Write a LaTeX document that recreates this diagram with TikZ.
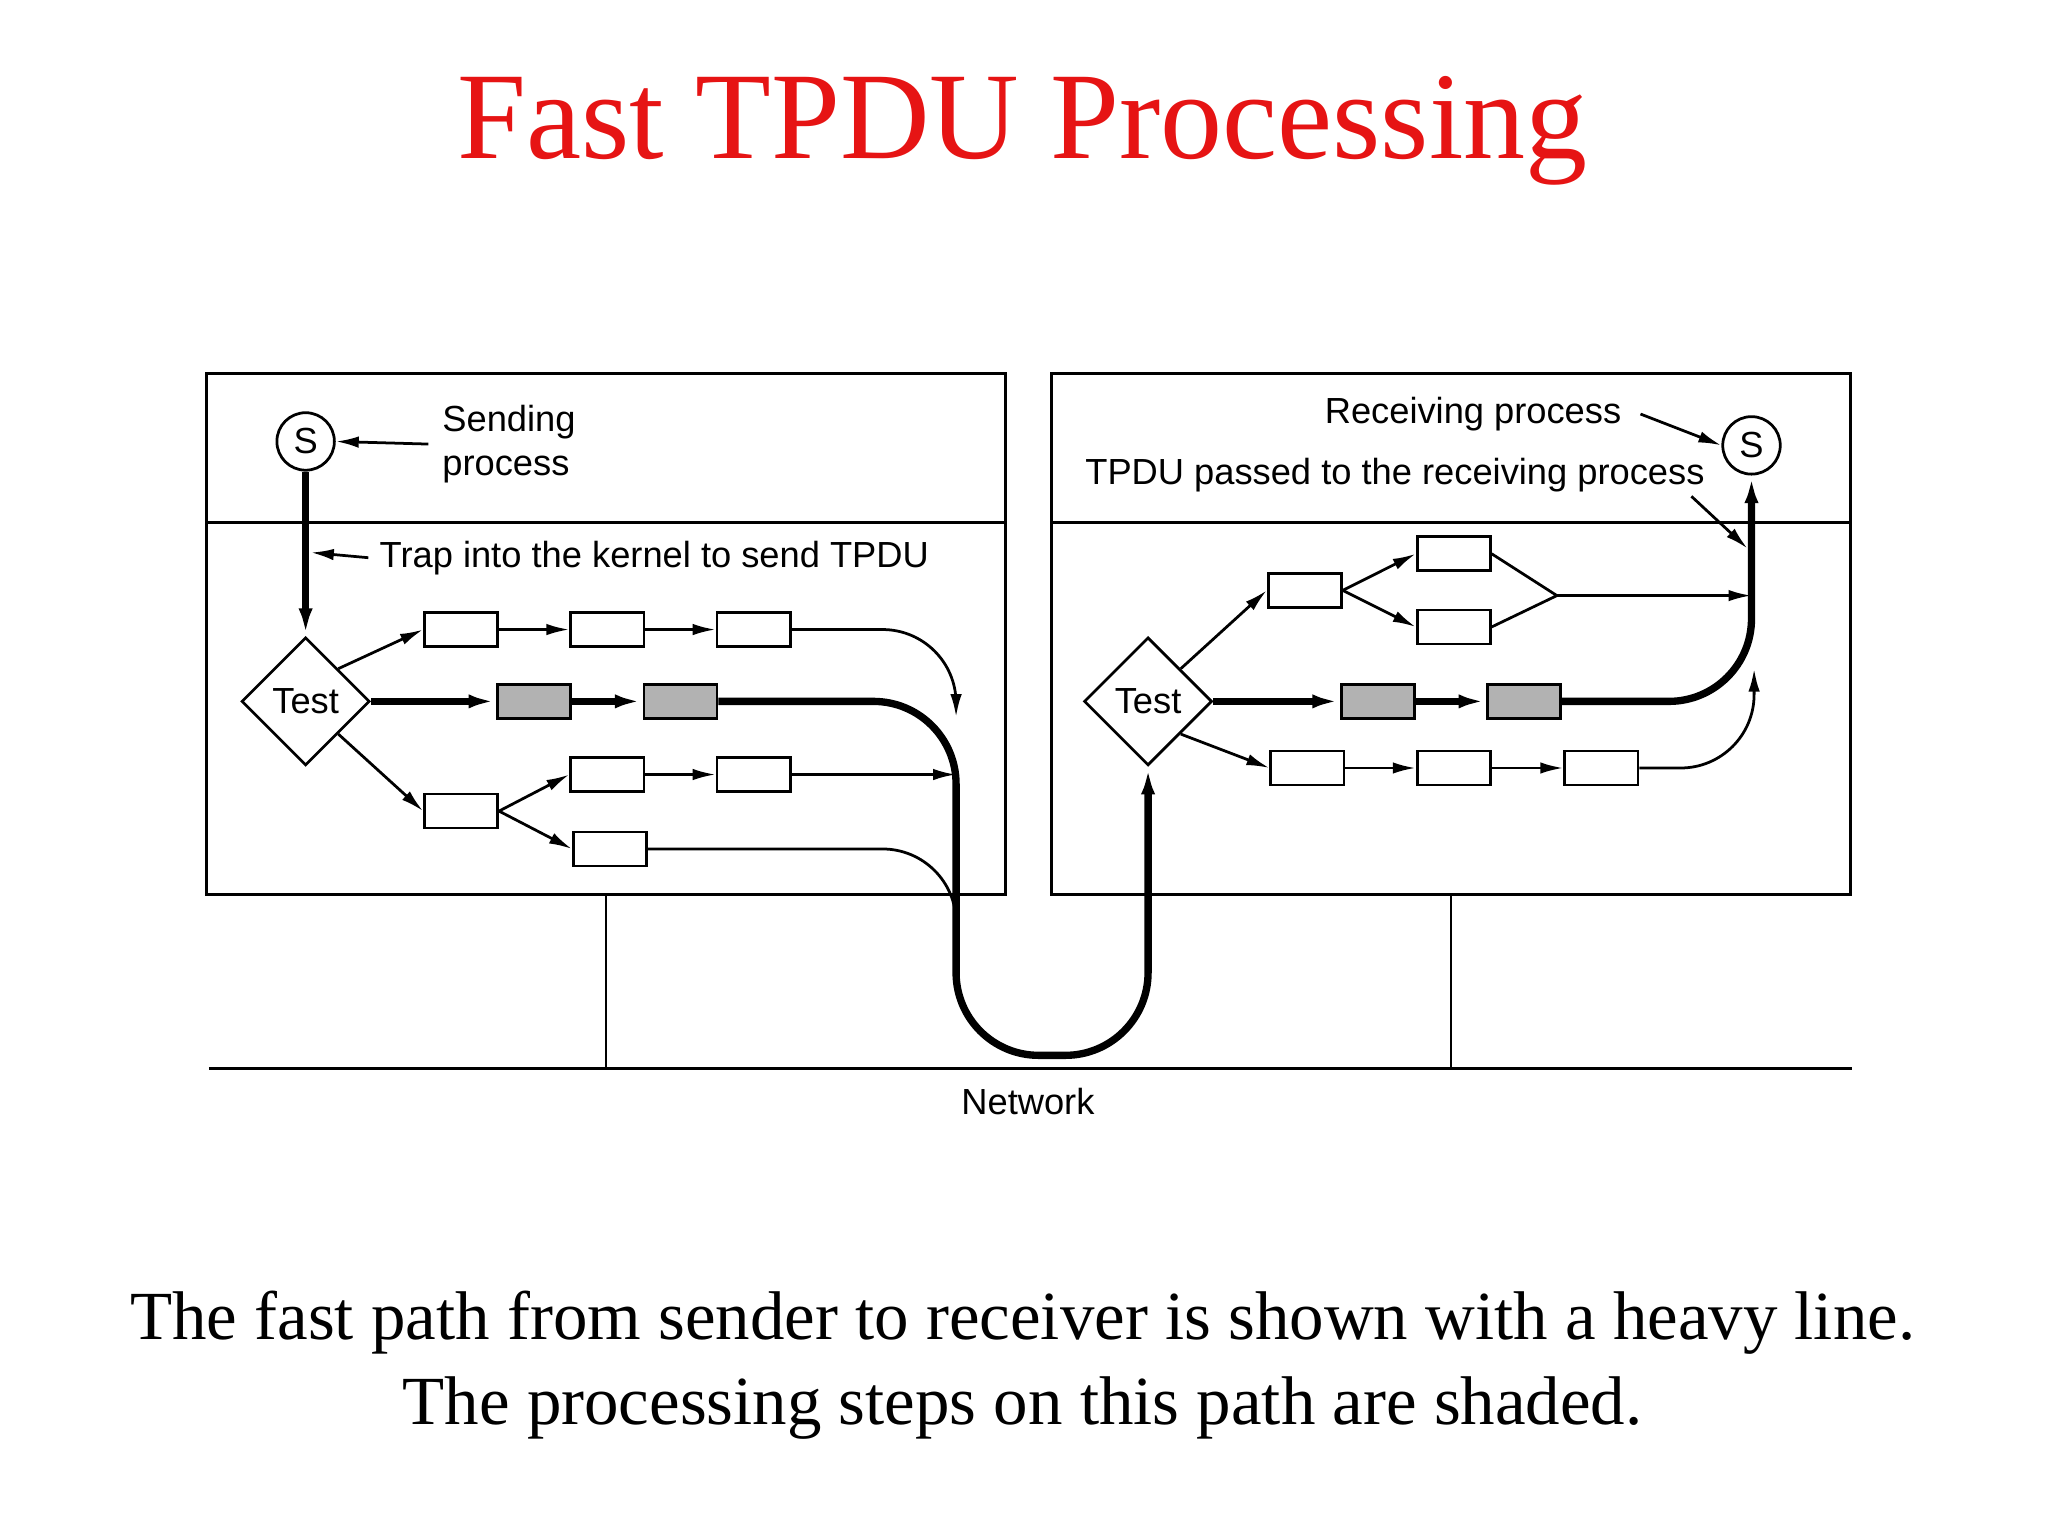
\documentclass[tikz,border=0pt]{standalone}
\usepackage{fontspec}
\setmainfont{Liberation Serif}
\setsansfont{Liberation Sans}
\usetikzlibrary{shapes.geometric,arrows.meta}
\definecolor{titlered}{RGB}{230,20,20}
\begin{document}
\begin{tikzpicture}[x=0.01cm,y=-0.01cm,
  lbl/.style={font=\sffamily\fontsize{7.9}{9.5}\selectfont, inner sep=0},
  stepbox/.style={draw, semithick, minimum width=0.56cm, minimum height=0.26cm, inner sep=0},
  fast/.style={stepbox, fill=gray!60},
  test/.style={draw, diamond, semithick, minimum width=0.98cm, minimum height=0.98cm, inner sep=0, font=\sffamily\fontsize{7.9}{9.5}\selectfont},
  proc/.style={draw, semithick, circle, minimum size=0.44cm, inner sep=0, font=\sffamily\fontsize{7.9}{9.5}\selectfont},
  ar/.style={-{Latex[length=5pt,width=2.5pt]}, semithick},
  heavy/.style={-{Latex[length=6pt,width=3pt]}, line width=1.6pt, rounded corners=18pt},
  ln/.style={semithick}]
\useasboundingbox (0,0) rectangle (1568,1176);
\node[font=\fontsize{27}{31}\selectfont, text=titlered] (title) at (783,100) {Fast TPDU Processing};
\node[align=center, font=\fontsize{15}{18.5}\selectfont] (caption) at (783,1045)
  {The fast path from sender to receiver is shown with a heavy line.\\The processing steps on this path are shaded.};

% hosts and network
\draw[ln] (158,286) rectangle (770,685);
\draw[ln] (158,400) -- (770,400);
\draw[ln] (805,286) rectangle (1417,685);
\draw[ln] (805,400) -- (1417,400);
\draw[ln] (160,818) -- (1418,818);
\draw[ln] (464,685) -- (464,818);
\draw[ln] (1111,685) -- (1111,818);
\node[lbl] (net) at (787,843) {Network};

% sender
\node[proc] (s1) at (234,338) {S};
\node[lbl, align=left, anchor=west] (sendlbl) at (338,340) {Sending\\process};
\draw[ar] (sendlbl.west) ++(-10,0) coordinate (sa) (sa) -- (s1.east);
\node[test] (t1) at (234,537) {Test};
\node[lbl, anchor=west] (trap) at (290,427) {Trap into the kernel to send TPDU};
\coordinate (trapend) at (238,423);
\draw[ar] (trap.west) ++(-8,0) coordinate (ta) (ta) -- (trapend);
\draw[heavy] (s1) -- (t1);
\node[stepbox] (a1) at (353,482) {};
\node[stepbox] (a2) at (465,482) {};
\node[stepbox] (a3) at (577,482) {};
\node[fast] (g1) at (409,537) {};
\node[fast] (g2) at (521,537) {};
\node[stepbox] (c1) at (465,593) {};
\node[stepbox] (c2) at (577,593) {};
\node[stepbox] (d0) at (353,621) {};
\node[stepbox] (d1) at (467,650) {};
\draw[ar] (t1.north east) -- (a1.west);
\draw[ar] (a1) -- (a2);
\draw[ar] (a2) -- (a3);
\draw[ar] (t1.south east) -- (d0.west);
\draw[ar] (d0.east) -- (c1.west);
\draw[ar] (d0.east) -- (d1.west);
\draw[ar] (c1) -- (c2);
\coordinate (m1) at (732,549);
\coordinate (m3) at (732,593);
\draw[ar, rounded corners=16pt] (a3.east) -- (732,482) -- (m1);
\draw[ar] (c2.east) -- (m3);
\draw[ln, rounded corners=16pt] (d1.east) -- (732,650) -- (732,690);
\draw[heavy] (t1.east) -- (g1.west);
\draw[heavy] (g1) -- (g2);

% receiver
\node[proc] (s2) at (1341,341) {S};
\node[lbl, anchor=east] (recv) at (1242,317) {Receiving process};
\draw[ar] (recv.east) ++(14,0) coordinate (ra) (ra) -- (s2.west);
\node[lbl] (passed) at (1068,364) {TPDU passed to the receiving process};
\coordinate (pend) at (1338,420);
\draw[ar] (1295,380) coordinate (pa) (pa) -- (pend);
\node[test] (t2) at (879,537) {Test};
\node[stepbox] (b1) at (999,452) {};
\node[stepbox] (b2) at (1113,424) {};
\node[stepbox] (b3) at (1113,480) {};
\node[fast] (h1) at (1055,537) {};
\node[fast] (h2) at (1167,537) {};
\node[stepbox] (e1) at (1001,588) {};
\node[stepbox] (e2) at (1113,588) {};
\node[stepbox] (e3) at (1226,588) {};
\coordinate (join) at (1192,456);
\coordinate (in1) at (1341,456);
\coordinate (in2) at (1343,512);
\draw[ar] (t2.north east) -- (b1.west);
\draw[ar] (b1.east) -- (b2.west);
\draw[ar] (b1.east) -- (b3.west);
\draw[ln] (b2.east) -- (join) -- (b3.east);
\draw[ar] (join) -- (in1);
\draw[ar] (t2.south east) -- (e1.west);
\draw[ar] (e1) -- (e2);
\draw[ar] (e2) -- (e3);
\draw[ar, rounded corners=16pt] (e3.east) -- (1343,588) -- (in2);
\draw[heavy] (t2.east) -- (h1.west);
\draw[heavy] (h1) -- (h2);

% fast path through the network
\draw[heavy] (g2.east) -- (732,537) -- (732,808) -- (879,808) -- (t2.south);
\draw[heavy] (h2.east) -- (1341,537) -- (s2.south);
\end{tikzpicture}
\end{document}
